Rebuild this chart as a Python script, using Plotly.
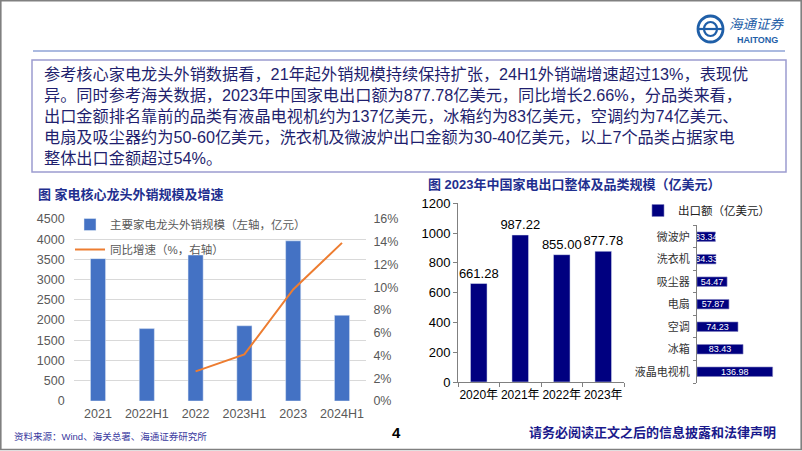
import plotly.graph_objects as go

W, H = 802, 451
def px(x): return x / W
def py(y): return 1 - y / H

# ---------------- data ----------------
cats1 = ["2021", "2022H1", "2022", "2023H1", "2023", "2024H1"]
sales = [3520, 1790, 3610, 1860, 3960, 2120]
growth = [None, None, 0.026, 0.041, 0.098, 0.139]

years2 = ["2020年", "2021年", "2022年", "2023年"]
export_total = [661.28, 987.22, 855.00, 877.78]

cats3 = ["液晶电视机", "冰箱", "空调", "电扇", "吸尘器", "洗衣机", "微波炉"]
cat_values = [136.98, 83.43, 74.23, 57.87, 54.47, 34.33, 33.34]

FONT = "Liberation Sans, Arial, Noto Sans CJK SC, sans-serif"
NAVY = "#000080"

fig = go.Figure()

# chart 1
fig.add_trace(go.Bar(x=cats1, y=sales, name="主要家电龙头外销规模（左轴，亿元）",
                     marker_color="#4472c4", xaxis="x", yaxis="y", width=0.31,
                     legend="legend", legendgroup="a"))
fig.add_trace(go.Scatter(x=cats1, y=growth, name="同比增速（%，右轴）", mode="lines",
                         line=dict(color="#ed7d31", width=2), xaxis="x", yaxis="y2",
                         legend="legend", legendgroup="b", connectgaps=False))

# chart 2 left
fig.add_trace(go.Bar(x=years2, y=export_total, marker_color=NAVY, xaxis="x2", yaxis="y3",
                     width=0.4, text=export_total, texttemplate="%{y:.2f}",
                     textposition="outside", constraintext="none",
                     textfont=dict(size=13, color="#000000"), cliponaxis=False,
                     showlegend=False))

# chart 2 right
fig.add_trace(go.Bar(x=cat_values, y=cats3, orientation="h", name="出口额（亿美元）",
                     marker=dict(color=NAVY, line=dict(color="#8080c0", width=0.6)),
                     xaxis="x3", yaxis="y4", width=0.42,
                     text=[f"{v:.2f}" for v in cat_values], textposition="inside",
                     insidetextanchor="middle", constraintext="none",
                     textfont=dict(size=9, color="#ffffff"),
                     legend="legend2"))

fig.update_layout(
    width=W, height=H, margin=dict(l=0, r=0, t=0, b=0, pad=0, autoexpand=False),
    paper_bgcolor="white", plot_bgcolor="rgba(0,0,0,0)",
    font=dict(family=FONT, color="#595959"),
    xaxis=dict(domain=[px(73.6), px(366.4)], anchor="y", showline=False, ticks="",
               automargin=False, ticklabelstandoff=3,
               tickfont=dict(size=12.5, color="#595959"), showgrid=False),
    yaxis=dict(domain=[py(401), py(219)], range=[0, 4500], dtick=500, anchor="x",
               automargin=False,
               gridcolor="#d9d9d9", gridwidth=1, zeroline=False, showline=False,
               tickfont=dict(size=12.5, color="#595959"), ticklabelstandoff=8),
    yaxis2=dict(domain=[py(401), py(219)], range=[0, 0.16], dtick=0.02, tickformat=".0%",
                overlaying="y", side="right", anchor="x", showgrid=False, zeroline=False,
                automargin=False,
                tickfont=dict(size=12.5, color="#595959"), ticklabelstandoff=6),
    xaxis2=dict(domain=[px(458), px(624)], anchor="y3", showline=True, linecolor="#808080",
                ticks="outside", tickson="boundaries", ticklen=4, tickcolor="#808080",
                automargin=False, ticklabelstandoff=2,
                tickangle=0, tickfont=dict(size=12, color="#000000"), showgrid=False),
    yaxis3=dict(domain=[py(382), py(203.3)], range=[0, 1200], dtick=200, anchor="x2",
                showline=True, linecolor="#808080", ticks="outside", ticklen=4,
                automargin=False,
                tickcolor="#808080", showgrid=False, zeroline=False,
                tickfont=dict(size=13, color="#000000")),
    xaxis3=dict(domain=[px(697), px(697 + 150 * 0.552)], range=[0, 150], anchor="y4",
                automargin=False, visible=False),
    yaxis4=dict(domain=[py(383), py(225.4)], anchor="x3", showline=True, linecolor="#808080",
                ticks="outside", tickson="boundaries", ticklen=3, tickcolor="#808080",
                automargin=False,
                tickfont=dict(size=11, color="#333333", family="Noto Sans CJK SC"),
                ticklabelstandoff=4),
    legend=dict(x=px(70), y=py(210), xanchor="left", yanchor="top",
                font=dict(size=11.5, color="#595959"), bgcolor="rgba(0,0,0,0)",
                traceorder="grouped", tracegroupgap=6, itemwidth=30),
    legend2=dict(x=px(638), y=py(196), xanchor="left", yanchor="top",
                 font=dict(size=11.5, color="#222222", family="Noto Sans CJK SC"),
                 bgcolor="rgba(0,0,0,0)", itemwidth=30),
)

shapes = []
# slide border
shapes.append(dict(type="rect", xref="paper", yref="paper", x0=px(0.8), x1=px(801.2),
                   y0=py(449.5), y1=py(0.8), line=dict(color="#808080", width=1.6)))
# header line
shapes.append(dict(type="line", xref="paper", yref="paper", x0=px(33), x1=px(785),
                   y0=py(51), y1=py(51), line=dict(color="#8fa3d6", width=1.5)))
# text box
shapes.append(dict(type="rect", xref="paper", yref="paper", x0=px(32), x1=px(786),
                   y0=py(172), y1=py(60), line=dict(color="#9c9cd0", width=1.5)))
# logo
shapes.append(dict(type="circle", xref="paper", yref="paper", x0=px(698), x1=px(723),
                   y0=py(42), y1=py(16), line=dict(color="#1f5fa8", width=2.8)))
shapes.append(dict(type="circle", xref="paper", yref="paper", x0=px(704), x1=px(717),
                   y0=py(36), y1=py(22), line=dict(color="#1f5fa8", width=2.2)))
shapes.append(dict(type="line", xref="paper", yref="paper", x0=px(698), x1=px(723),
                   y0=py(29), y1=py(29), line=dict(color="#1f5fa8", width=2.2)))

annotations = []
def note(x, y, text, size, color, xanchor="left", yanchor="middle", family=FONT, align="left"):
    annotations.append(dict(x=px(x), y=py(y), xref="paper", yref="paper", text=text,
                            showarrow=False, xanchor=xanchor, yanchor=yanchor, align=align,
                            font=dict(size=size, color=color, family=family)))

body = ("参考核心家电龙头外销数据看，21年起外销规模持续保持扩张，24H1外销端增速超过13%，表现优<br>"
        "异。同时参考海关数据，2023年中国家电出口额为877.78亿美元，同比增长2.66%，分品类来看，<br>"
        "出口金额排名靠前的品类有液晶电视机约为137亿美元，冰箱约为83亿美元，空调约为74亿美元、<br>"
        "电扇及吸尘器约为50-60亿美元，洗衣机及微波炉出口金额为30-40亿美元，以上7个品类占据家电<br>"
        "整体出口金额超过54%。")
note(42, 116, body, 16.2, "#1f1f6e")

note(36, 194, "<b>图 家电核心龙头外销规模及增速</b>", 13, "#1f2f8f")
note(426, 184, "<b>图 2023年中国家电出口整体及品类规模（亿美元）</b>", 13, "#1f2f8f")

note(12, 436, "资料来源：Wind、海关总署、海通证券研究所", 9.5, "#3a3aa0")
note(396, 432, "<b>4</b>", 15, "#000000", xanchor="center")
note(527, 432, "<b>请务必阅读正文之后的信息披露和法律声明</b>", 13, "#1a1a8c")

note(727, 24, "<i>海通证券</i>", 13.5, "#1f5fa8")
note(735, 40, "<b>HAITONG</b>", 9, "#1f5fa8")

fig.update_layout(shapes=shapes, annotations=annotations)
fig.write_html("out.html", config={"displayModeBar": False},
               post_script="document.body.style.margin='0';document.body.style.overflow='hidden';")
